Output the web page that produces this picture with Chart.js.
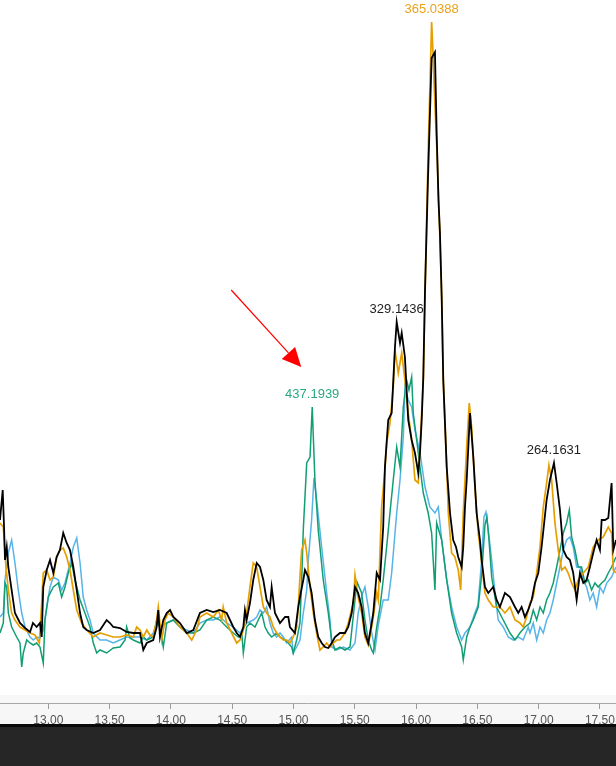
<!DOCTYPE html>
<html>
<head>
<meta charset="utf-8">
<script src="https://cdn.jsdelivr.net/npm/chart.js@4.4.1/dist/chart.umd.min.js"></script>
<style>
  html, body { margin: 0; padding: 0; background: #fff; }
  #wrap { position: relative; width: 616px; height: 766px; }
</style>
</head>
<body>
<div id="wrap"><canvas id="c" width="616" height="766"></canvas></div>
<script>
// retention time (min) and intensity for each trace
const blackTime = [12.606,12.628,12.639,12.647,12.661,12.674,12.701,12.728,12.769,12.810,12.851,12.875,12.905,12.932,12.946,12.959,12.987,13.014,13.041,13.068,13.095,13.122,13.150,13.177,13.204,13.232,13.259,13.285,13.313,13.367,13.422,13.476,13.503,13.530,13.585,13.639,13.693,13.748,13.775,13.803,13.856,13.884,13.897,13.911,13.938,13.966,13.993,14.020,14.074,14.129,14.183,14.237,14.292,14.346,14.400,14.455,14.482,14.509,14.537,14.564,14.591,14.604,14.618,14.645,14.672,14.700,14.727,14.754,14.781,14.808,14.822,14.849,14.890,14.931,14.958,14.971,15.012,15.039,15.053,15.080,15.094,15.121,15.148,15.175,15.202,15.230,15.257,15.284,15.312,15.339,15.379,15.420,15.447,15.475,15.502,15.528,15.556,15.583,15.610,15.638,15.651,15.679,15.706,15.732,15.746,15.773,15.801,15.828,15.842,15.869,15.883,15.909,15.936,15.964,15.991,16.018,16.032,16.046,16.059,16.073,16.097,16.127,16.154,16.168,16.183,16.195,16.209,16.222,16.250,16.277,16.303,16.326,16.344,16.372,16.385,16.399,16.413,16.440,16.467,16.494,16.521,16.535,16.562,16.589,16.630,16.657,16.684,16.725,16.766,16.807,16.834,16.861,16.888,16.915,16.943,16.970,16.997,17.024,17.065,17.092,17.125,17.147,17.174,17.201,17.228,17.255,17.282,17.310,17.337,17.364,17.391,17.418,17.445,17.473,17.500,17.514,17.541,17.568,17.595,17.609,17.631];
const blackInt = [183,213,176,143,156,136,113,90,80,75,71,80,76,80,66,116,133,143,130,146,153,170,160,153,136,113,90,76,73,70,73,83,80,76,75,71,70,70,53,60,63,76,93,66,83,90,93,86,80,70,73,90,93,91,93,90,83,76,70,66,76,93,83,100,123,140,136,123,103,96,116,90,80,86,86,76,70,96,106,123,133,126,110,83,66,60,56,55,60,66,70,70,76,90,116,110,96,70,60,80,90,130,123,176,236,283,290,356,381,360,370,346,283,263,250,230,250,283,326,413,523,645,651,570,503,470,406,323,236,190,163,156,146,136,156,196,223,290,246,190,163,143,116,110,116,103,96,110,106,96,90,96,86,93,103,120,130,156,203,223,240,220,193,153,146,143,130,103,130,120,123,136,150,163,153,183,183,185,220,153,163];

const orangeTime = [12.606,12.633,12.655,12.674,12.701,12.728,12.769,12.810,12.851,12.891,12.927,12.946,12.959,12.987,13.014,13.041,13.068,13.095,13.122,13.150,13.177,13.204,13.232,13.272,13.313,13.367,13.422,13.476,13.530,13.585,13.639,13.693,13.721,13.748,13.775,13.803,13.829,13.856,13.884,13.897,13.925,13.952,13.979,14.020,14.074,14.129,14.170,14.210,14.237,14.292,14.346,14.387,14.414,14.427,14.455,14.496,14.537,14.564,14.591,14.618,14.645,14.672,14.700,14.727,14.754,14.781,14.808,14.835,14.863,14.890,14.917,14.944,14.971,14.998,15.026,15.039,15.053,15.067,15.094,15.108,15.135,15.162,15.189,15.216,15.243,15.271,15.298,15.325,15.352,15.379,15.420,15.447,15.488,15.502,15.528,15.556,15.583,15.610,15.638,15.651,15.679,15.692,15.719,15.746,15.760,15.787,15.814,15.828,15.855,15.883,15.909,15.936,15.964,15.991,16.018,16.032,16.059,16.073,16.097,16.127,16.140,16.154,16.170,16.195,16.209,16.222,16.250,16.263,16.290,16.317,16.344,16.364,16.385,16.413,16.434,16.453,16.480,16.507,16.521,16.562,16.589,16.630,16.684,16.725,16.766,16.807,16.847,16.874,16.902,16.929,16.956,16.984,17.011,17.038,17.065,17.084,17.106,17.133,17.160,17.188,17.215,17.241,17.269,17.296,17.323,17.364,17.405,17.445,17.486,17.527,17.568,17.595,17.609,17.631];
const orangeInt = [180,176,136,113,90,83,76,73,70,68,60,100,130,133,123,126,146,153,155,146,133,113,93,80,73,66,70,68,66,66,68,66,76,73,66,73,68,66,83,96,63,83,90,86,76,70,63,73,86,90,86,93,83,96,80,70,60,63,73,90,116,140,136,116,96,90,86,76,70,66,63,63,60,66,76,96,126,153,163,150,116,90,70,53,56,60,56,60,63,63,70,80,100,128,106,90,66,58,76,86,110,103,196,233,260,280,316,353,330,350,323,290,263,223,220,256,323,406,543,681,645,598,553,463,406,323,236,190,150,146,133,113,190,256,300,276,216,170,156,110,103,96,96,90,96,83,80,76,86,100,106,130,156,196,220,238,223,180,153,133,136,130,120,113,123,130,136,156,163,166,176,170,133,130];

const greenTime = [12.606,12.633,12.647,12.661,12.674,12.701,12.742,12.769,12.783,12.796,12.824,12.851,12.878,12.905,12.932,12.959,12.973,13.000,13.041,13.082,13.109,13.136,13.163,13.191,13.218,13.259,13.299,13.340,13.367,13.395,13.422,13.476,13.530,13.585,13.626,13.639,13.666,13.693,13.748,13.775,13.803,13.856,13.884,13.911,13.938,13.966,14.020,14.074,14.129,14.183,14.237,14.292,14.346,14.400,14.455,14.509,14.550,14.578,14.591,14.618,14.645,14.686,14.713,14.741,14.768,14.794,14.822,14.863,14.890,14.931,14.958,14.985,14.998,15.026,15.053,15.067,15.080,15.108,15.135,15.153,15.175,15.202,15.243,15.284,15.312,15.339,15.379,15.420,15.461,15.493,15.518,15.556,15.583,15.610,15.638,15.651,15.679,15.706,15.732,15.760,15.787,15.814,15.842,15.869,15.896,15.923,15.942,15.964,15.977,16.005,16.032,16.059,16.099,16.127,16.154,16.168,16.209,16.250,16.290,16.331,16.372,16.385,16.413,16.440,16.467,16.507,16.535,16.562,16.578,16.595,16.617,16.657,16.711,16.766,16.807,16.847,16.888,16.929,16.956,16.984,17.011,17.038,17.065,17.092,17.119,17.147,17.174,17.201,17.228,17.250,17.269,17.296,17.323,17.350,17.377,17.405,17.432,17.459,17.486,17.514,17.541,17.568,17.595,17.631];
const greenInt = [70,80,120,116,90,76,66,60,36,50,63,60,58,60,56,40,83,106,116,120,106,116,130,140,123,103,90,76,60,50,53,50,55,56,63,76,65,63,60,66,63,66,83,76,56,80,83,76,70,70,73,83,86,83,76,70,66,70,50,76,80,76,83,90,76,70,66,70,66,63,60,56,50,63,80,123,173,240,246,296,223,173,123,90,63,53,56,53,56,93,121,110,83,63,53,50,76,96,123,156,190,223,256,236,296,323,313,326,290,263,236,210,190,170,113,180,163,123,90,70,56,43,66,76,83,96,128,178,186,163,126,96,83,70,63,70,76,80,93,83,96,90,103,110,120,136,153,170,180,193,166,153,136,136,120,123,113,120,116,120,123,130,136,146];

const blueTime = [12.606,12.633,12.647,12.674,12.701,12.728,12.755,12.783,12.810,12.851,12.878,12.905,12.932,12.959,12.987,13.014,13.041,13.082,13.109,13.136,13.177,13.204,13.232,13.259,13.285,13.313,13.340,13.367,13.422,13.476,13.530,13.585,13.639,13.693,13.748,13.803,13.856,13.884,13.911,13.966,14.020,14.074,14.129,14.183,14.237,14.292,14.346,14.400,14.455,14.509,14.564,14.618,14.672,14.700,14.727,14.754,14.781,14.808,14.835,14.863,14.890,14.917,14.944,14.985,14.998,15.026,15.053,15.080,15.108,15.121,15.148,15.167,15.189,15.230,15.271,15.298,15.312,15.352,15.406,15.461,15.502,15.528,15.559,15.583,15.610,15.638,15.665,15.692,15.732,15.773,15.801,15.842,15.869,15.896,15.909,15.936,15.964,15.991,16.032,16.073,16.113,16.154,16.181,16.209,16.250,16.290,16.331,16.372,16.399,16.440,16.480,16.505,16.535,16.554,16.570,16.589,16.617,16.644,16.670,16.711,16.752,16.793,16.834,16.874,16.915,16.929,16.956,16.984,17.011,17.038,17.065,17.092,17.119,17.147,17.174,17.201,17.228,17.255,17.282,17.310,17.337,17.364,17.391,17.418,17.445,17.473,17.500,17.527,17.555,17.595,17.631];
const blueInt = [86,90,123,150,163,140,113,90,76,66,63,66,65,73,96,116,126,123,113,120,140,156,165,140,106,93,83,70,63,63,60,63,66,66,66,63,70,80,76,80,83,76,73,70,80,83,83,86,80,76,70,80,83,86,93,90,96,80,70,66,70,66,60,66,50,56,63,90,113,143,183,225,203,156,110,83,56,53,56,53,60,90,108,116,96,70,53,78,103,103,130,190,223,266,316,303,296,273,250,216,196,190,196,163,123,96,76,63,70,76,90,98,143,186,191,173,143,110,83,76,66,63,66,63,76,70,80,63,76,70,83,90,103,120,136,153,163,166,156,136,136,123,116,103,110,96,116,110,120,126,136];

const tickValues = [13.0, 13.5, 14.0, 14.5, 15.0, 15.5, 16.0, 16.5, 17.0, 17.5];

// peak annotations: label text, series, retention time of the peak
const peakLabels = ['365.0388', '329.1436', '437.1939', '264.1631'];
const peakSeries = ['orange', 'black', 'green', 'black'];
const peakTimes = [16.127, 15.842, 15.153, 17.125];

const COLORS = { black: '#000000', orange: '#E69F00', green: '#119E73', blue: '#56B4E9' };
const LABEL_COLORS = { black: '#1e1e1e', orange: '#E9A21A', green: '#2AA882' };

function pts(t, v) { return t.map((x, i) => ({ x: x, y: v[i] })); }
const seriesData = {
  black: pts(blackTime, blackInt),
  orange: pts(orangeTime, orangeInt),
  green: pts(greenTime, greenInt),
  blue: pts(blueTime, blueInt)
};

const bgPlugin = {
  id: 'bg',
  beforeDraw(chart) {
    const ctx = chart.ctx;
    ctx.save();
    ctx.fillStyle = '#ffffff';
    ctx.fillRect(0, 0, chart.width, chart.height);
    ctx.fillStyle = '#f7f7f7';
    const b = chart.chartArea.bottom;
    ctx.fillRect(0, b - 8, chart.width, 32);
    ctx.restore();
  }
};

const annotPlugin = {
  id: 'annot',
  afterDatasetsDraw(chart) {
    const ctx = chart.ctx;
    const xs = chart.scales.x, ys = chart.scales.y;
    ctx.save();
    ctx.font = '13px "Liberation Sans", Arial, sans-serif';
    ctx.textAlign = 'center';
    ctx.textBaseline = 'middle';
    let greenPt = null;
    peakLabels.forEach((lab, i) => {
      const s = peakSeries[i];
      const data = seriesData[s];
      let best = data[0];
      data.forEach(p => { if (Math.abs(p.x - peakTimes[i]) < Math.abs(best.x - peakTimes[i])) best = p; });
      const px = xs.getPixelForValue(best.x), py = ys.getPixelForValue(best.y);
      ctx.fillStyle = LABEL_COLORS[s];
      ctx.fillText(lab, px, py - 13);
      if (s === 'green') greenPt = { x: px, y: py };
    });
    if (greenPt) {
      const tip = { x: greenPt.x - 11, y: greenPt.y - 40 };
      const start = { x: greenPt.x - 81, y: greenPt.y - 117 };
      const ang = Math.atan2(tip.y - start.y, tip.x - start.x);
      const L = 19, W = 9;
      const bx = tip.x - L * Math.cos(ang), by = tip.y - L * Math.sin(ang);
      ctx.strokeStyle = '#ff0000';
      ctx.lineWidth = 1.2;
      ctx.beginPath();
      ctx.moveTo(start.x, start.y);
      ctx.lineTo(bx, by);
      ctx.stroke();
      ctx.fillStyle = '#ff0000';
      ctx.beginPath();
      ctx.moveTo(tip.x, tip.y);
      ctx.lineTo(bx + W * Math.sin(ang), by - W * Math.cos(ang));
      ctx.lineTo(bx - W * Math.sin(ang), by + W * Math.cos(ang));
      ctx.closePath();
      ctx.fill();
    }
    ctx.restore();
  },
  afterDraw(chart) {
    const ctx = chart.ctx;
    ctx.save();
    ctx.fillStyle = '#0a0a0a';
    ctx.fillRect(0, 724, chart.width, 3);
    ctx.fillStyle = '#262626';
    ctx.fillRect(0, 727, chart.width, chart.height - 727);
    ctx.restore();
  }
};

new Chart(document.getElementById('c'), {
  type: 'line',
  data: {
    datasets: [
      { label: 'black', data: seriesData.black, borderColor: COLORS.black, borderWidth: 1.8 },
      { label: 'orange', data: seriesData.orange, borderColor: COLORS.orange, borderWidth: 1.7 },
      { label: 'green', data: seriesData.green, borderColor: COLORS.green, borderWidth: 1.5 },
      { label: 'blue', data: seriesData.blue, borderColor: COLORS.blue, borderWidth: 1.5 }
    ]
  },
  options: {
    responsive: false,
    animation: false,
    parsing: false,
    normalized: true,
    elements: { point: { radius: 0 }, line: { tension: 0, fill: false } },
    layout: { padding: { left: 0, right: 0, top: 0, bottom: 34.4 } },
    plugins: { legend: { display: false }, tooltip: { enabled: false } },
    scales: {
      x: {
        type: 'linear',
        min: 12.606,
        max: 17.631,
        afterBuildTicks: (s) => { s.ticks = tickValues.map(v => ({ value: v })); },
        afterFit: (s) => { s.paddingLeft = 0; s.paddingRight = 0; },
        ticks: {
          callback: (v) => Number(v).toFixed(2),
          color: '#555555',
          font: { family: '"Liberation Sans", Arial, sans-serif', size: 12, lineHeight: 1.383 },
          padding: 3,
          maxRotation: 0,
          autoSkip: false
        },
        grid: { drawOnChartArea: false, drawTicks: true, tickLength: 6, tickColor: '#9a9a9a' },
        border: { display: true, color: '#a8a8a8', width: 1 }
      },
      y: { display: false, min: 0, max: 703 }
    }
  },
  plugins: [bgPlugin, annotPlugin]
});
</script>
</body>
</html>
